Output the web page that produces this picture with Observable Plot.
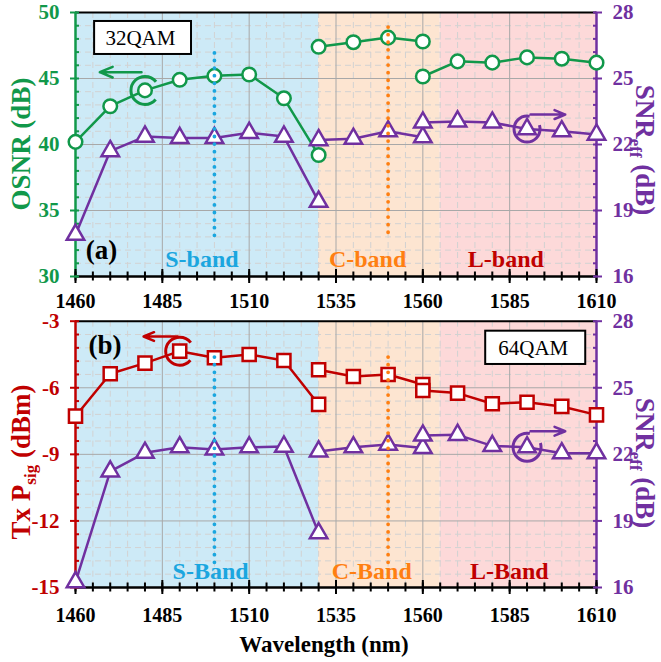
<!DOCTYPE html>
<html><head><meta charset="utf-8">
<script src="https://cdn.jsdelivr.net/npm/d3@7"></script>
<script src="https://cdn.jsdelivr.net/npm/@observablehq/plot@0.6"></script>
<style>
body{margin:0;background:#fff}
#chart svg{display:block}
</style>
</head><body><div id="chart"></div>
<script>
// ---------- data ----------
const wlS = [1460,1470,1480,1490,1500,1510,1520,1530];
const wlC = [1530,1540,1550,1560];
const wlL = [1560,1570,1580,1590,1600,1610];
// panel (a) 32QAM
const osnrS = [40.2,42.9,44.1,44.9,45.2,45.3,43.5,39.2];
const osnrC = [47.4,47.75,48.1,47.8];
const osnrL = [45.15,46.3,46.2,46.6,46.5,46.2];
const snrAS = [17.9,21.7,22.36,22.3,22.3,22.53,22.36,19.4];
const snrAC = [22.2,22.26,22.6,22.33];
const snrAL = [23.0,23.05,23.0,22.7,22.6,22.45];
// panel (b) 64QAM
const psigS = [-7.28,-5.37,-4.89,-4.35,-4.65,-4.5,-4.77,-6.75];
const psigC = [-5.19,-5.49,-5.4,-5.85];
const psigL = [-6.12,-6.24,-6.72,-6.65,-6.84,-7.22];
const snrBS = [16.24,21.23,22.07,22.32,22.22,22.32,22.35,18.45];
const snrBC = [22.13,22.32,22.44,22.29];
const snrBL = [22.85,22.88,22.38,22.32,22.05,22.05];
// axes
const xTicks = [1460,1485,1510,1535,1560,1585,1610];
const xMinor = d3.range(1460, 1611, 5);
const snrTicks = [16,19,22,25,28];
const snrMinor = d3.range(16, 28.001, 0.6);
const osnrTicks = [30,35,40,45,50];
const psigTicks = [-15,-12,-9,-6,-3];
const bandEdges = [1460,1530,1565,1610];
const bandNamesA = ["S-band","C-band","L-band"];
const bandNamesB = ["S-Band","C-Band","L-Band"];

// ---------- style ----------
const FONT = "Liberation Serif, Times New Roman, serif";
const GREEN = "#11984a", PURPLE = "#7030a0", RED = "#c00000";
const BLUE = "#1ba6df", ORANGE = "#ff7f11";
const bandFill = ["#cdeaf7","#fde5d1","#fdd9d9"];
const bandText = [BLUE, ORANGE, RED];

const rows = (wl, vals, f = v => v) => wl.map((w, i) => ({wl: w, v: f(vals[i])}));

function panel(cfg) {
  const {height, marginTop, marginBottom, yDomain, yTicks, toY, fromY, leftColor, xPad,
         leftSeries, snrSeries, leftSymbol, leftR, bandNames, bandLabelX, bandLabelY,
         guides, rings, arrows, box, tag} = cfg;
  const bands = bandFill.map((c, i) => ({x1: bandEdges[i], x2: bandEdges[i+1], c}));
  const yMinor = snrMinor.map(toY);
  const marks = [];
  marks.push(Plot.rect(bands, {x1: "x1", x2: "x2", y1: yDomain[0], y2: yDomain[1], fill: "c"}));
  const isMajX = v => xTicks.includes(v);
  marks.push(Plot.gridX(xMinor.filter(v => !isMajX(v)), {stroke: "#d2d2d2", strokeOpacity: 1, strokeDasharray: "6,4"}));
  marks.push(Plot.gridY(yMinor.filter(v => !yTicks.some(t => Math.abs(t - v) < 1e-6)), {stroke: "#d2d2d2", strokeOpacity: 1, strokeDasharray: "6,4"}));
  marks.push(Plot.gridX(xTicks.slice(1, -1), {stroke: "#a8a8a8", strokeOpacity: 1}));
  marks.push(Plot.gridY(yTicks.slice(1, -1), {stroke: "#a8a8a8", strokeOpacity: 1}));
  // frame
  marks.push(Plot.ruleY([yDomain[1]], {stroke: "black", strokeWidth: 2}));
  marks.push(Plot.ruleY([yDomain[0]], {stroke: "black", strokeWidth: 2.5}));
  marks.push(Plot.ruleX([1460], {stroke: leftColor, strokeWidth: 2.5}));
  marks.push(Plot.ruleX([1610], {stroke: PURPLE, strokeWidth: 2.5}));
  // x ticks
  marks.push(Plot.axisX(xMinor, {anchor: "bottom", tickSize: 9, dy: -4.5, fill: "none", stroke: "black", strokeWidth: 2}));
  marks.push(Plot.axisX(xTicks, {anchor: "bottom", tickSize: 14, dy: -7, fill: "none", stroke: "black", strokeWidth: 2}));
  marks.push(Plot.axisX(xTicks, {anchor: "bottom", tickSize: 0, tickPadding: xPad, fill: "black", fontSize: 20, fontWeight: "bold", fontFamily: FONT, label: null, tickFormat: d => String(d)}));
  // left y ticks
  marks.push(Plot.axisY(yMinor, {anchor: "left", tickSize: 4, dx: 4, fill: "none", stroke: leftColor, strokeWidth: 2}));
  marks.push(Plot.axisY(yTicks, {anchor: "left", tickSize: 7, dx: 2, fill: "none", stroke: leftColor, strokeWidth: 2}));
  marks.push(Plot.axisY(yTicks, {anchor: "left", tickSize: 0, tickPadding: 16, fill: leftColor, fontSize: 21, fontWeight: "bold", fontFamily: FONT, label: null,
    tickFormat: d => String(d)}));
  // right y ticks (SNR)
  marks.push(Plot.axisY(yMinor, {anchor: "right", tickSize: 4, dx: -4, fill: "none", stroke: PURPLE, strokeWidth: 2}));
  marks.push(Plot.axisY(snrTicks.map(toY), {anchor: "right", tickSize: 7, dx: -2, fill: "none", stroke: PURPLE, strokeWidth: 2}));
  marks.push(Plot.axisY(snrTicks.map(toY), {anchor: "right", tickSize: 0, tickPadding: 16, fill: PURPLE, fontSize: 21, fontWeight: "bold", fontFamily: FONT, label: null,
    tickFormat: d => String(Math.round(fromY(d)))}));
  // band labels
  marks.push(Plot.text(bandNames.map((t, i) => ({t, x: bandLabelX[i], c: bandText[i]})),
    {x: "x", y: bandLabelY, text: "t", fill: "c", fontSize: 24, fontWeight: "bold", fontFamily: FONT, lineAnchor: "middle"}));
  // series
  for (const s of leftSeries) {
    marks.push(Plot.line(s, {x: "wl", y: "v", stroke: leftColor, strokeWidth: 2.5}));
  }
  for (const s of leftSeries) {
    marks.push(Plot.dot(s, {x: "wl", y: "v", symbol: leftSymbol, r: leftR, fill: "white", stroke: leftColor, strokeWidth: 2.5}));
  }
  for (const s of snrSeries) {
    marks.push(Plot.line(s, {x: "wl", y: "v", stroke: PURPLE, strokeWidth: 2.5}));
  }
  for (const s of snrSeries) {
    marks.push(Plot.dot(s, {x: "wl", y: "v", symbol: "triangle", r: 6.5, fill: "white", stroke: PURPLE, strokeWidth: 2.5}));
  }
  // dotted guides
  for (const g of guides) {
    marks.push(Plot.ruleX([g], {x: "x", y1: "y1", y2: "y2", stroke: g.c, strokeWidth: 3.8, strokeDasharray: "0,7.6", strokeLinecap: "round"}));
  }
  // rings & arrows
  for (const r of rings) {
    const C = 2 * Math.PI * r.r;
    const gap = r.gap / 360 * C;
    marks.push(Plot.dot([r], {x: "x", y: "y", r: r.r, fill: "none", stroke: r.c, strokeWidth: 3,
      strokeDasharray: `${C - gap},${gap}`, strokeDashoffset: -(r.start / 360) * C}));
  }
  for (const a of arrows) {
    marks.push(Plot.arrow([a], {x1: "x1", y1: "y1", x2: "x2", y2: "y2", stroke: a.c, strokeWidth: 2.5, headLength: 11, headAngle: 45}));
  }
  // box label & tag
  marks.push(Plot.rect([box], {x1: "x1", x2: "x2", y1: "y1", y2: "y2", fill: "white", stroke: "black", strokeWidth: 2}));
  marks.push(Plot.text([box], {x: "tx", y: "ty", text: "t", fontSize: 21, fontWeight: "normal", fontFamily: FONT, fill: "black", lineAnchor: "middle"}));
  marks.push(Plot.text([tag], {x: "x", y: "y", text: "t", fontSize: 27, fontWeight: "bold", fontFamily: FONT, fill: "black", lineAnchor: "middle"}));
  if (cfg.extra) marks.push(...cfg.extra);

  return Plot.plot({
    width: 661, height, marginTop, marginBottom, marginLeft: 75, marginRight: 65,
    x: {domain: [1460, 1610], label: null},
    y: {domain: yDomain, label: null},
    color: {type: "identity"},
    style: "font-family: 'Liberation Serif', 'Times New Roman', serif; font-weight: bold; background: transparent; overflow: visible;",
    marks
  });
}

// panel (a): SNR 16..28 mapped to OSNR 30..50
const toA = s => 30 + (s - 16) * 20 / 12;
const fromA = y => 16 + (y - 30) * 12 / 20;
const svgA = panel({
  height: 310, marginTop: 12, marginBottom: 34, yDomain: [30, 50], yTicks: osnrTicks,
  toY: toA, fromY: fromA, leftColor: GREEN, xPad: 17,
  leftSeries: [rows(wlS, osnrS), rows(wlC, osnrC), rows(wlL, osnrL)],
  snrSeries: [rows(wlS, snrAS, toA), rows(wlC, snrAC, toA), rows(wlL, snrAL, toA)],
  leftSymbol: "circle", leftR: 6.8,
  bandNames: bandNamesA, bandLabelX: [1496.4, 1544.1, 1583.9], bandLabelY: 31.27,
  guides: [{x: 1500, y1: 46.9, y2: 32.95, c: BLUE}, {x: 1550, y1: 48.86, y2: 32.95, c: ORANGE}],
  rings: [{x: 1480, y: 44.1, r: 14, c: GREEN, gap: 80, start: 40},
          {x: 1590, y: toA(22.7), r: 13, c: PURPLE, gap: 60, start: 340}],
  arrows: [{x1: 1479, y1: 45.48, x2: 1467, y2: 45.48, c: GREEN},
           {x1: 1591, y1: toA(23.36), x2: 1601, y2: toA(23.36), c: PURPLE}],
  box: {x1: 1465.5, x2: 1493.4, y1: 46.82, y2: 49.32, tx: 1478.7, ty: 48.07, t: "32QAM"},
  tag: {x: 1467.5, y: 32.0, t: "(a)"}
});

// panel (b): SNR 16..28 mapped to Psig -15..-3
const toB = s => s - 31;
const fromB = y => y + 31;
const svgB = panel({
  height: 352, marginTop: 10.7, marginBottom: 75, yDomain: [-15, -3], yTicks: psigTicks,
  toY: toB, fromY: fromB, leftColor: RED, xPad: 20,
  leftSeries: [rows(wlS, psigS), rows(wlC, psigC), rows(wlL, psigL)],
  snrSeries: [rows(wlS, snrBS, toB), rows(wlC, snrBC, toB), rows(wlL, snrBL, toB)],
  leftSymbol: "square", leftR: 7.4,
  bandNames: bandNamesB, bandLabelX: [1498.9, 1545.3, 1584.9], bandLabelY: -14.25,
  guides: [{x: 1500, y1: -4.64, y2: -13.9, c: BLUE}, {x: 1550, y1: -4.64, y2: -14.1, c: ORANGE}],
  rings: [{x: 1490, y: -4.35, r: 14, c: RED, gap: 80, start: 40},
          {x: 1590, y: toB(22.32), r: 14, c: PURPLE, gap: 60, start: 340}],
  arrows: [{x1: 1489.4, y1: -3.69, x2: 1479.6, y2: -3.69, c: RED},
           {x1: 1591, y1: toB(23.04), x2: 1601, y2: toB(23.04), c: PURPLE}],
  box: {x1: 1578.1, x2: 1606.9, y1: -4.95, y2: -3.45, tx: 1591.8, ty: -4.2, t: "64QAM"},
  tag: {x: 1468.5, y: -4.1, t: "(b)"},
  extra: [Plot.text(["Wavelength (nm)"], {frameAnchor: "bottom", dy: 57, dx: -12, text: d => d, fontSize: 23, fontWeight: "bold", fontFamily: FONT, fill: "black", lineAnchor: "middle"})]
});

const chart = document.getElementById("chart");
chart.appendChild(svgA);
chart.appendChild(svgB);

function addTitle(svg, x, y, rot, color, parts) {
  const t = d3.select(svg).append("text")
    .attr("transform", `translate(${x},${y}) rotate(${rot})`)
    .attr("text-anchor", "middle").attr("fill", color)
    .attr("font-size", 27).attr("font-weight", "bold");
  for (const p of parts) {
    const ts = t.append("tspan").text(p.t);
    if (p.dy) ts.attr("dy", p.dy);
    if (p.size) ts.attr("font-size", p.size);
  }
}
addTitle(svgA, 30, 144, -90, GREEN, [{t: "OSNR (dB)"}]);
addTitle(svgA, 636, 150, 90, PURPLE, [{t: "SNR"}, {t: "eff", size: 17, dy: 6}, {t: " (dB)", dy: -6}]);
addTitle(svgB, 30, 152, -90, RED, [{t: "Tx P"}, {t: "sig", size: 17, dy: 6}, {t: " (dBm)", dy: -6}]);
addTitle(svgB, 636, 153, 90, PURPLE, [{t: "SNR"}, {t: "eff", size: 17, dy: 6}, {t: " (dB)", dy: -6}]);

// make sure every text uses the serif face
d3.selectAll("#chart svg text, #chart svg tspan, #chart svg g")
  .attr("font-family", "Liberation Serif, Times New Roman, serif")
  .style("font-family", "'Liberation Serif', 'Times New Roman', serif");
</script>
</body></html>
